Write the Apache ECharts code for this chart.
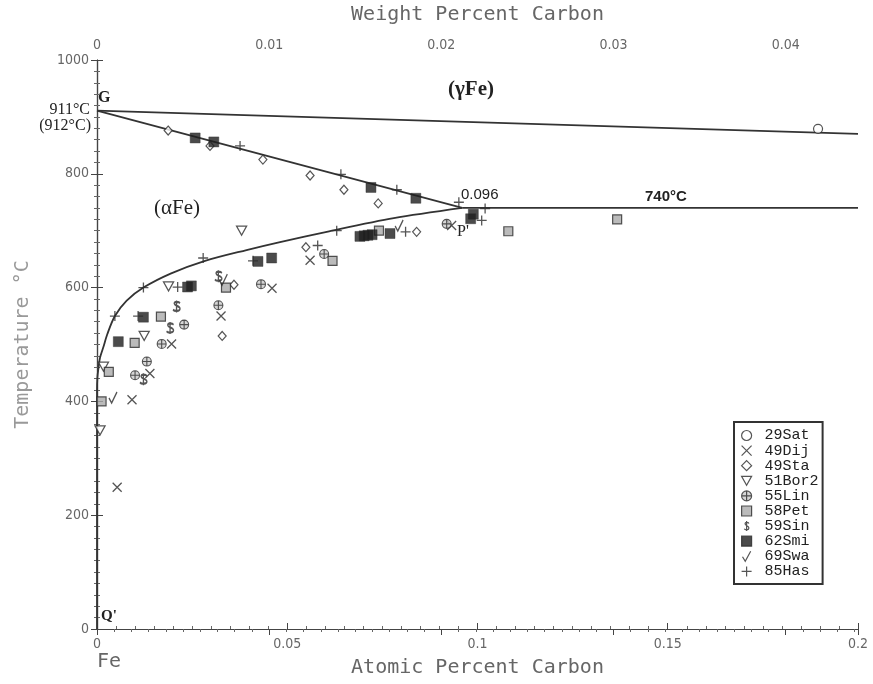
<!DOCTYPE html>
<html>
<head>
<meta charset="utf-8">
<script src="https://cdn.jsdelivr.net/npm/echarts@6/dist/echarts.min.js"></script>
<style>
  html, body { margin: 0; padding: 0; background: #fff; }
  #main { width: 873px; height: 684px; }
</style>
</head>
<body>
<div id="main"></div>
<script>
// phase boundaries, [atomic % C, temperature °C]
var gammaLine = [[0, 911], [0.2, 870]];
var alphaGammaLine = [[0, 911], [0.096, 740]];
var eutectoidLine = [[0.096, 740], [0.2, 740]];
var solvusLine = [
  [0, 0], [0, 418], [0.0001, 442], [0.0004, 459], [0.0008, 477], [0.0017, 496],
  [0.0027, 518], [0.0047, 550], [0.0078, 577], [0.0122, 600], [0.0195, 625],
  [0.0284, 647], [0.0393, 666], [0.0481, 680], [0.061, 699], [0.078, 722], [0.096, 740]
];

// measurements, [atomic % C, temperature °C]
var sat29 = [[0.1895, 879]];
var dij49 = [[0.0932, 709], [0.056, 648], [0.046, 599], [0.0326, 550], [0.0196, 501],
  [0.0139, 449], [0.0092, 403], [0.0053, 249]];
var sta49 = [[0.0187, 876], [0.0297, 849], [0.0436, 825], [0.056, 797], [0.0649, 772],
  [0.0739, 748], [0.084, 698], [0.0549, 671], [0.036, 605], [0.0329, 515]];
var bor51 = [[0.038, 700], [0.0188, 602], [0.0124, 515], [0.0017, 461], [0.0008, 349]];
var lin55 = [[0.0919, 712], [0.0597, 659], [0.0431, 606], [0.0319, 569], [0.0229, 535],
  [0.017, 501], [0.0131, 470], [0.01, 446]];
var pet58 = [[0.1367, 720], [0.1081, 699], [0.0741, 700], [0.0619, 647], [0.0339, 600],
  [0.0168, 549], [0.0099, 503], [0.0031, 452], [0.0012, 400]];
var sin59 = [[0.0319, 620], [0.0209, 567], [0.0192, 529], [0.0122, 439]];
var smi62 = [[0.0258, 863], [0.0307, 856], [0.072, 776], [0.0838, 757], [0.0989, 729],
  [0.0982, 721], [0.0691, 690], [0.0702, 691], [0.0712, 692], [0.0723, 693], [0.077, 695],
  [0.0423, 646], [0.0459, 652], [0.0238, 601], [0.0248, 603], [0.0122, 548], [0.0056, 505]];
var swa69 = [[0.0794, 709], [0.0332, 614], [0.0042, 407]];
var has85 = [[0.0376, 849], [0.0641, 799], [0.0788, 772], [0.0951, 750], [0.102, 739],
  [0.1011, 718], [0.0811, 698], [0.063, 700], [0.058, 674], [0.0279, 652], [0.041, 647],
  [0.0212, 601], [0.0122, 600], [0.0047, 550], [0.0108, 550]];

var atomicMax = 0.2;
var weightMax = 0.0442;
var tempMax = 1000;

var ink = '#2a2a2a';
var tickFont = '"DejaVu Sans Condensed", "Liberation Sans", sans-serif';
var nameFont = 'DejaVu Sans Mono';

var chart = echarts.init(document.getElementById('main'));

function boundary(data) {
  return {
    type: 'line', data: data, showSymbol: false, silent: true,
    smooth: data === solvusLine ? 0.3 : false,
    lineStyle: { color: '#333', width: 1.8 },
    z: 1
  };
}

function marks(name, data, symbol, size, fill, lw) {
  return {
    name: name, type: 'scatter', data: data,
    symbol: symbol, symbolSize: size,
    itemStyle: { color: fill, borderColor: ink, borderWidth: lw },
    z: 3
  };
}

function axisStyle() {
  return {
    axisLine: { show: true, lineStyle: { color: '#444', width: 1.2 } },
    axisTick: { inside: true, length: 6, lineStyle: { color: '#444' } },
    minorTick: { show: true, splitNumber: 10, length: 3, lineStyle: { color: '#666' } },
    splitLine: { show: false }
  };
}

var crossPath = 'path://M0,0L10,10M10,0L0,10';
var triPath = 'path://M0,0L10,0L5,9Z';
var linPath = 'path://M5,0A5,5,0,1,1,5,10A5,5,0,1,1,5,0ZM5,0L5,10M0,5L10,5';
var dollarPath = 'path://M8,3C7,1 3,1 3,3.5C3,6 8,6 8,9C8,12 3,12 2,10M5,0L5,13';
var checkPath = 'path://M0,6L3,11L9,0';
var plusPath = 'path://M5,0L5,10M0,5L10,5';

var labelStyle = { fontFamily: tickFont, fontSize: 14, color: '#666', margin: 8 };

var option = {
  animation: false,
  backgroundColor: '#fff',
  grid: { left: 97, right: 15, top: 58, bottom: 55 },
  xAxis: [Object.assign(axisStyle(), {
    type: 'value', position: 'bottom', min: 0, max: atomicMax, interval: 0.05,
    name: 'Atomic Percent Carbon', nameLocation: 'middle', nameGap: 29,
    nameTextStyle: { fontFamily: nameFont, fontSize: 20, color: '#666' },
    axisLabel: Object.assign({ formatter: function (v) { return String(v); } }, labelStyle)
  }), Object.assign(axisStyle(), {
    type: 'value', position: 'top', min: 0, max: weightMax, interval: 0.01,
    name: 'Weight Percent Carbon', nameLocation: 'middle', nameGap: 35,
    nameTextStyle: { fontFamily: nameFont, fontSize: 20, color: '#666' },
    axisLabel: Object.assign({ showMaxLabel: false, formatter: function (v) { return String(+v.toFixed(2)); } }, labelStyle)
  })],
  yAxis: [Object.assign(axisStyle(), {
    type: 'value', position: 'left', min: 0, max: tempMax, interval: 200,
    name: 'Temperature \u00b0C', nameLocation: 'middle', nameGap: 64,
    nameTextStyle: { fontFamily: nameFont, fontSize: 20, color: '#999' },
    axisLabel: Object.assign({ formatter: function (v) { return String(v); } }, labelStyle)
  }), Object.assign(axisStyle(), {
    type: 'value', position: 'right', min: 0, max: tempMax, interval: 200,
    axisLabel: { show: false }
  })],
  legend: {
    orient: 'vertical', left: 734, top: 422,
    padding: [6, 4, 5, 7],
    borderColor: '#333', borderWidth: 2,
    itemWidth: 10, itemHeight: 10, itemGap: 0.1,
    itemStyle: { borderWidth: 1.2, borderColor: 'inherit' },
    textStyle: { fontFamily: 'Liberation Mono', fontSize: 15, color: '#222', padding: [0, 0, 0, 8] },
    data: ['29Sat', '49Dij', '49Sta', '51Bor2', '55Lin', '58Pet', '59Sin', '62Smi', '69Swa', '85Has']
  },
  series: [
    boundary(gammaLine),
    boundary(alphaGammaLine),
    boundary(eutectoidLine),
    boundary(solvusLine),
    marks('29Sat', sat29, 'circle', 9, '#fff', 1.2),
    marks('49Dij', dij49, crossPath, 9, 'rgba(0,0,0,0)', 1.3),
    marks('49Sta', sta49, 'diamond', [8, 9], '#fff', 1.2),
    marks('51Bor2', bor51, triPath, [10, 9], '#fff', 1.3),
    marks('55Lin', lin55, linPath, 9, '#ccc', 1.1),
    marks('58Pet', pet58, 'rect', 9, '#aaa', 1.2),
    marks('59Sin', sin59, dollarPath, [7, 12], 'rgba(0,0,0,0)', 1.7),
    marks('62Smi', smi62, 'rect', 10, '#1e1e1e', 0.5),
    marks('69Swa', swa69, checkPath, [8, 11], 'rgba(0,0,0,0)', 1.5),
    marks('85Has', has85, plusPath, 10, 'rgba(0,0,0,0)', 1.3)
  ],
  graphic: [
    { type: 'text', left: 98, top: 90, style: { text: 'G', font: 'bold 16px "Liberation Serif"', fill: '#222' } },
    { type: 'text', right: 783, top: 102, style: { text: '911\u00b0C', font: '16px "Liberation Serif"', fill: '#222' } },
    { type: 'text', right: 782, top: 118, style: { text: '(912\u00b0C)', font: '16px "Liberation Serif"', fill: '#222' } },
    { type: 'text', left: 448, top: 79, style: { text: '(\u03b3Fe)', font: 'bold 21px "Liberation Serif"', fill: '#222' } },
    { type: 'text', left: 154, top: 198, style: { text: '(\u03b1Fe)', font: '21px "Liberation Serif"', fill: '#222' } },
    { type: 'text', left: 461, top: 187, style: { text: '0.096', font: '15px "Liberation Sans"', fill: '#222' } },
    { type: 'text', left: 645, top: 189, style: { text: '740\u00b0C', font: 'bold 15px "Liberation Sans"', fill: '#222' } },
    { type: 'text', left: 457, top: 224, style: { text: "P'", font: '16px "Liberation Serif"', fill: '#222' } },
    { type: 'text', left: 101, top: 609, style: { text: "Q'", font: 'bold 15px "Liberation Serif"', fill: '#222' } },
    { type: 'text', left: 97, top: 652, style: { text: 'Fe', font: '20px "DejaVu Sans Mono"', fill: '#666' } }
  ]
};

chart.setOption(option);
</script>
</body>
</html>
